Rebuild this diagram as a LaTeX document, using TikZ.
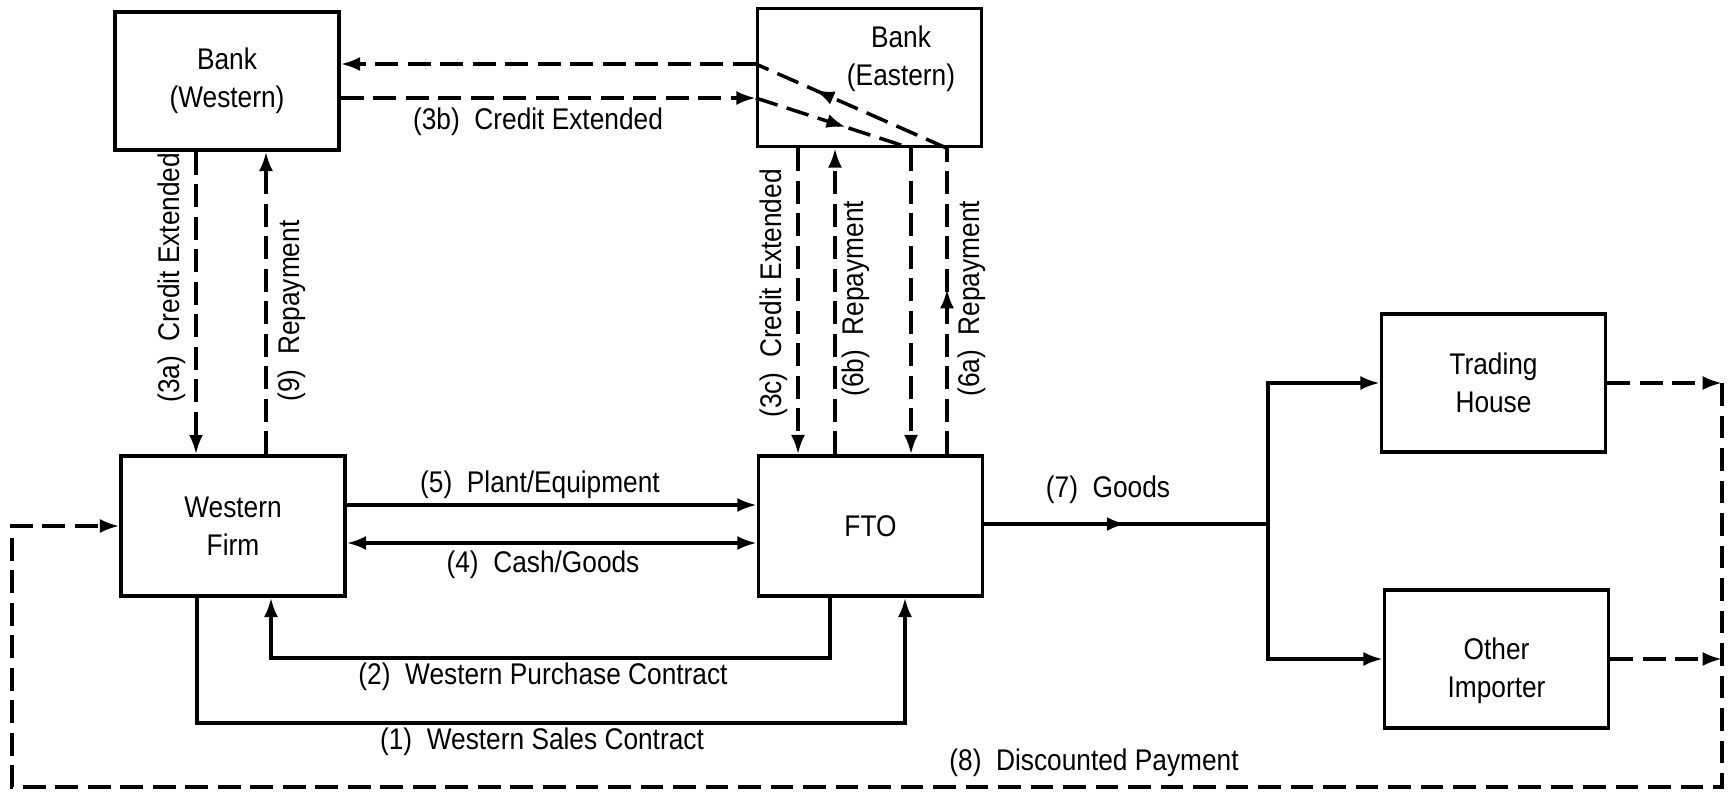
\documentclass[tikz,border=0pt]{standalone}
\usepackage{fontspec}
\setmainfont[FakeStretch=0.88]{Liberation Sans}
\usetikzlibrary{arrows.meta,decorations.markings}

\begin{document}
\begin{tikzpicture}[x=0.02cm,y=-0.02cm,
  every node/.style={font=\fontsize{17}{21.5}\selectfont},
  box/.style={draw, line width=2pt, minimum width=4.48cm, minimum height=2.76cm, inner sep=0pt, align=center},
  conn/.style={line width=2pt},
  dashconn/.style={conn, dash pattern=on 13pt off 5.5pt},
  >={Latex[length=11pt,width=8pt]},
  midarrow/.style={postaction={decorate,decoration={markings,mark=at position #1 with {\arrow{>}}}}},
  lbl/.style={inner sep=0pt},
  vlbl/.style={inner sep=0pt, rotate=90, anchor=west}
]
\path[fill=white, use as bounding box] (0,0) rectangle (1730,791);

% boxes
\node[box] (BW) at (227,81) {Bank\\(Western)};
\node[box] (BE) at (869.5,77.5) {};
\node[lbl, align=center] (BEt) at (901,59) {Bank\\(Eastern)};
\node[box, minimum height=2.8cm] (WF) at (233,526) {Western\\Firm};
\node[box, minimum height=2.8cm] (FTO) at (870.5,526) {FTO};
\node[box] (TH) at (1493.5,383) {Trading\\House};
\node[box] (OI) at (1496.5,659) {};
\node[lbl, align=center] (OIt) at (1496.5,671) {Other\\Importer};

% guide positions for the connectors
\coordinate (x3a) at (196,0);
\coordinate (x9) at (266,0);
\coordinate (x3c) at (798,0);
\coordinate (x6b) at (835,0);
\coordinate (xA) at (911,0);
\coordinate (xB) at (947,0);
\coordinate (yA) at (0,98);
\coordinate (yB) at (0,64);
\coordinate (y5) at (0,505);
\coordinate (y4) at (0,543);
\coordinate (c2r) at (830,658);
\coordinate (c2l) at (271,658);
\coordinate (c1l) at (197,723);
\coordinate (c1r) at (905,723);
\coordinate (split) at (1268,524);
\coordinate (rx) at (1722,0);
\coordinate (lx) at (12,0);
\coordinate (ybot) at (0,787);

% western bank <-> western firm
\draw[dashconn,->] (BW.south -| x3a) -- (WF.north -| x3a);
\draw[dashconn,->] (WF.north -| x9) -- (BW.south -| x9);

% (3b) credit: western bank -> eastern bank -> FTO
\draw[dashconn,->] (BW.east |- yA) -- (BE.west |- yA);
\draw[dashconn,midarrow=0.58] (BE.west |- yA) -- (BE.south -| xA);
\draw[dashconn,->] (BE.south -| xA) -- (FTO.north -| xA);

% (6a) repayment: FTO -> eastern bank -> western bank
\draw[dashconn,midarrow=0.54] (FTO.north -| xB) -- (BE.south -| xB);
\draw[dashconn,midarrow=0.69] (BE.south -| xB) -- (BE.west |- yB);
\draw[dashconn,->] (BE.west |- yB) -- (BW.east |- yB);

% eastern bank <-> FTO
\draw[dashconn,->] (BE.south -| x3c) -- (FTO.north -| x3c);
\draw[dashconn,->] (FTO.north -| x6b) -- (BE.south -| x6b);

% western firm <-> FTO
\draw[conn,->] (WF.east |- y5) -- (FTO.west |- y5);
\draw[conn,<->] (WF.east |- y4) -- (FTO.west |- y4);
\draw[conn,->] (FTO.south -| c2r) -- (c2r) -- (c2l) -- (WF.south -| c2l);
\draw[conn,->] (WF.south -| c1l) -- (c1l) -- (c1r) -- (FTO.south -| c1r);

% (7) goods to importers
\draw[conn,midarrow=0.5] (FTO.east |- split) -- (split);
\draw[conn,->] (split) -- (split |- TH.west) -- (TH.west);
\draw[conn,->] (split) -- (split |- OI.west) -- (OI.west);

% (8) discounted payment
\draw[dashconn,->] (TH.east) -- (TH.east -| rx);
\draw[dashconn,->] (OI.east) -- (OI.east -| rx);
\draw[dashconn,->] (TH.east -| rx) -- (rx |- ybot) -- (lx |- ybot) -- (lx |- WF.west) -- (WF.west);

% labels
\node[lbl] (L3b) at (538,122) {(3b)~~Credit Extended};
\node[lbl] (L5) at (540,485) {(5)~~Plant/Equipment};
\node[lbl] (L4) at (543,565) {(4)~~Cash/Goods};
\node[lbl] (L2) at (543,677) {(2)~~Western Purchase Contract};
\node[lbl] (L1) at (542,742) {(1)~~Western Sales Contract};
\node[lbl] (L7) at (1108,490) {(7)~~Goods};
\node[lbl] (L8) at (1094,763) {(8)~~Discounted Payment};
\node[vlbl] (L3a) at (172,403) {(3a)~~Credit Extended};
\node[vlbl] (L9) at (292,402) {(9)~~Repayment};
\node[vlbl] (L3c) at (774,418) {(3c)~~Credit Extended};
\node[vlbl] (L6b) at (856,397) {(6b)~~Repayment};
\node[vlbl] (L6a) at (972,397) {(6a)~~Repayment};
\end{tikzpicture}
\end{document}
